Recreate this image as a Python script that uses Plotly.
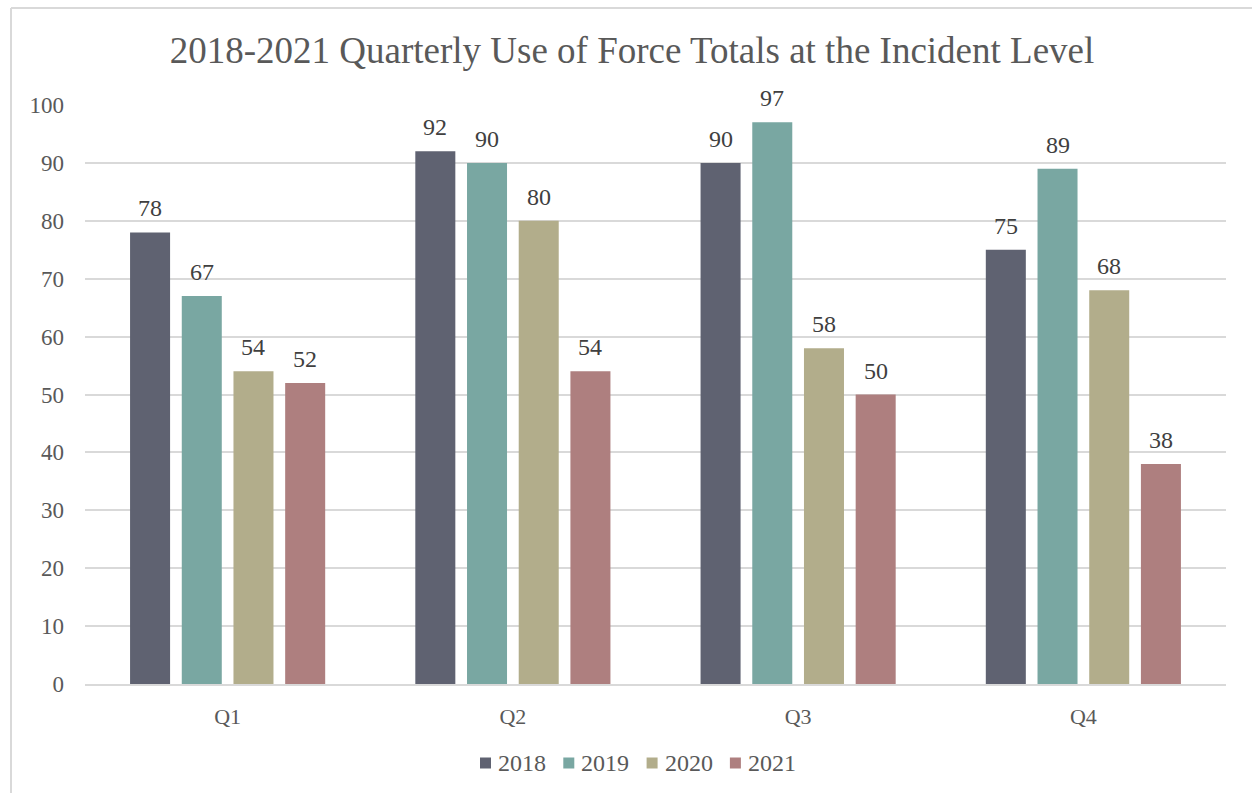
import plotly.graph_objects as go

quarters = ["Q1", "Q2", "Q3", "Q4"]
years = ["2018", "2019", "2020", "2021"]
totals_2018 = [78, 92, 90, 75]
totals_2019 = [67, 90, 97, 89]
totals_2020 = [54, 80, 58, 68]
totals_2021 = [52, 54, 50, 38]
y_ticks = [0, 10, 20, 30, 40, 50, 60, 70, 80, 90, 100]

series = [totals_2018, totals_2019, totals_2020, totals_2021]
colors = ["#5f6271", "#79a7a2", "#b2ad8b", "#ae7f7f"]

FONT = "Liberation Serif"
TEXT = "#595959"
GRID = "#d9d9d9"

W, H = 1252, 793
ml, mr, mt, mb = 85, 26, 105, 109
pw, ph = W - ml - mr, H - mt - mb
BARGAP, GROUPGAP = 0.275, 0.226


def px_x(x):
    return (x - ml) / pw


def px_y(y):
    return (H - mb - y) / ph


fig = go.Figure()
for name, vals, col in zip(years, series, colors):
    fig.add_trace(go.Bar(
        x=quarters, y=vals, name=name,
        marker=dict(color=col, line=dict(width=0)),
        showlegend=False,
    ))

# value labels above each bar, offset to the bar's slot within the group
cat_px = pw / len(quarters)
slot_px = cat_px * (1 - BARGAP) / len(years)
for i, vals in enumerate(series):
    offset = (i - (len(years) - 1) / 2) * slot_px
    for q, v in zip(quarters, vals):
        fig.add_annotation(
            x=q, y=v, xref="x", yref="y", text=str(v), showarrow=False,
            xanchor="center", yanchor="bottom", xshift=offset, yshift=9,
            font=dict(family=FONT, size=24, color="#404040"),
        )

# legend: colour squares with year labels beneath the chart
leg_y = px_y(763)
leg_start, leg_pitch, sq = 480, 83.3, 11
for i, (name, col) in enumerate(zip(years, colors)):
    x0 = leg_start + i * leg_pitch
    fig.add_shape(type="rect", xref="paper", yref="paper",
                  x0=px_x(x0), x1=px_x(x0 + sq),
                  y0=leg_y - (sq / 2) / ph, y1=leg_y + (sq / 2) / ph,
                  fillcolor=col, line=dict(width=0))
    fig.add_annotation(
        x=px_x(x0 + sq + 5), y=leg_y, xref="paper", yref="paper",
        text=name, showarrow=False, xanchor="left", yanchor="middle",
        font=dict(family=FONT, size=24, color=TEXT),
    )

fig.update_layout(
    width=W, height=H,
    margin=dict(l=ml, r=mr, t=mt, b=mb, autoexpand=False),
    paper_bgcolor="white", plot_bgcolor="white",
    barmode="group", bargap=BARGAP, bargroupgap=GROUPGAP,
    font=dict(family=FONT, color=TEXT),
    showlegend=False,
    title=dict(
        text="2018-2021 Quarterly Use of Force Totals at the Incident Level",
        x=px_x(632), xref="paper", xanchor="center",
        y=1 - 50 / H, yanchor="middle",
        font=dict(family=FONT, size=37, color=TEXT),
    ),
    xaxis=dict(
        showgrid=False, showline=True, linecolor=GRID, linewidth=1.5,
        ticks="", tickfont=dict(family=FONT, size=22, color=TEXT),
        ticklabelstandoff=12,
    ),
    yaxis=dict(
        range=[0, 100], tickvals=y_ticks,
        showgrid=True, gridcolor=GRID, gridwidth=1.5,
        zeroline=False, showline=False, ticks="",
        tickfont=dict(family=FONT, size=23, color=TEXT),
        ticklabelstandoff=20,
    ),
)

# chart frame: top and left edges
fig.add_shape(type="line", xref="paper", yref="paper",
              x0=px_x(11), x1=px_x(W + 5), y0=px_y(8), y1=px_y(8),
              line=dict(color=GRID, width=2))
fig.add_shape(type="line", xref="paper", yref="paper",
              x0=px_x(11), x1=px_x(11), y0=px_y(8), y1=px_y(H + 5),
              line=dict(color=GRID, width=2))

fig.write_html("out.html")
